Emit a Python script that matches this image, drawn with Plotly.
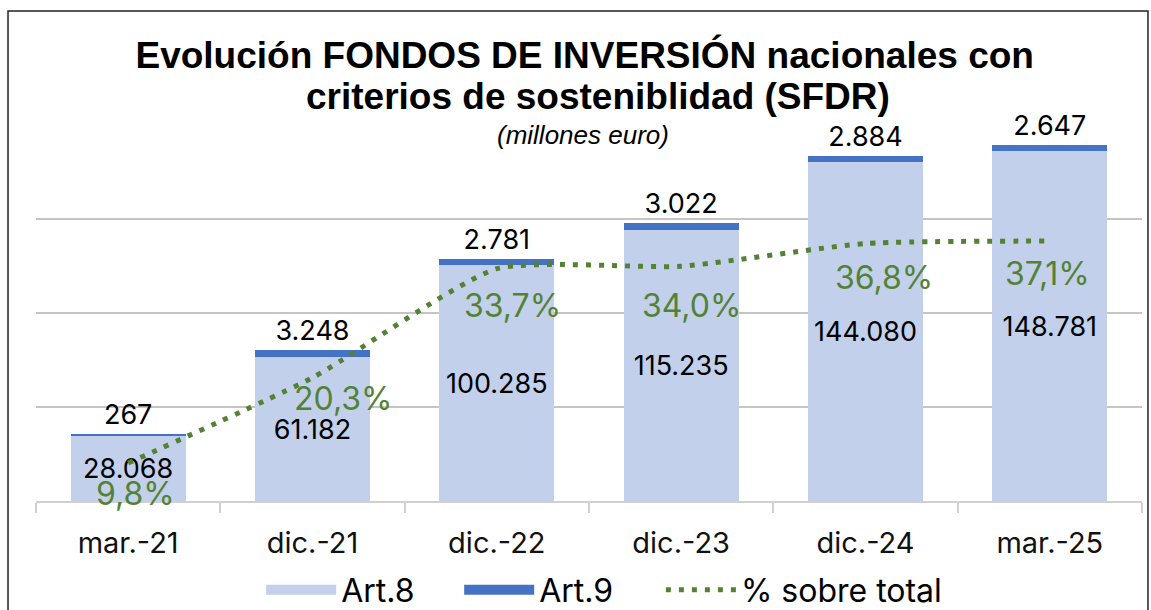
import plotly.graph_objects as go

# ---- data ----
categories = ["mar.-21", "dic.-21", "dic.-22", "dic.-23", "dic.-24", "mar.-25"]
art8 = [28068, 61182, 100285, 115235, 144080, 148781]
art9 = [267, 3248, 2781, 3022, 2884, 2647]
pct_total = [9.8, 20.3, 33.7, 34.0, 36.8, 37.1]
title_lines = ["Evolución FONDOS DE INVERSIÓN nacionales con",
               "criterios de sosteniblidad (SFDR)"]
subtitle = "(millones euro)"

# ---- label styling (pixel offsets of the % labels relative to their points) ----
pct_dx = [7, 30, 16, 10, 18, -2]
pct_dy = [30, 21, 37, 39, 34, 32]

def fmt_thousands(v):
    return f"{v:,}".replace(",", ".")

def fmt_pct(p):
    return f"{p:.1f}%".replace(".", ",")

LABEL_FONT = "Inter"
TITLE_FONT = "Liberation Sans"
GREEN = "#548235"
ART8_COLOR = "#C2D0EC"
ART9_COLOR = "#4472C4"
H = 610
PLOT_TOP, PLOT_BOTTOM = 130, 501  # pixel rows of plot area

fig = go.Figure()

fig.add_trace(go.Bar(
    x=categories, y=art8, name="Art.8", showlegend=False,
    marker=dict(color=ART8_COLOR, line=dict(width=0)),
    text=[fmt_thousands(v) for v in art8],
    textposition="inside", insidetextanchor="middle", textangle=0,
    textfont=dict(family=LABEL_FONT, size=27, color="black"),
    constraintext="none",
))
fig.add_trace(go.Bar(
    x=categories, y=art9, name="Art.9", showlegend=False,
    marker=dict(color=ART9_COLOR, line=dict(width=0)),
    text=[fmt_thousands(v) for v in art9],
    textposition="outside", textangle=0,
    textfont=dict(family=LABEL_FONT, size=27, color="black"),
    constraintext="none", cliponaxis=False,
))
fig.add_trace(go.Scatter(
    x=categories, y=[p / 100 for p in pct_total], name="% sobre total",
    yaxis="y2", mode="lines", showlegend=False,
    line=dict(color=GREEN, width=5, dash="5px,8px", shape="spline", smoothing=0.55),
))

# legend-only entries (wider swatches than plotly's default bar squares)
fig.add_trace(go.Scatter(x=[None], y=[None], mode="lines", name="Art.8",
                         line=dict(color=ART8_COLOR, width=10), legend="legend"))
fig.add_trace(go.Scatter(x=[None], y=[None], mode="lines", name="Art.9",
                         line=dict(color=ART9_COLOR, width=10), legend="legend"))
fig.add_trace(go.Scatter(x=[None], y=[None], mode="lines", name="% sobre total",
                         line=dict(color=GREEN, width=5, dash="5px,8px"), legend="legend2"))

for c, p, dx, dy in zip(categories, pct_total, pct_dx, pct_dy):
    fig.add_annotation(
        x=c, y=p / 100, xref="x", yref="y2", text=fmt_pct(p), showarrow=False,
        xshift=dx, yshift=-dy,
        font=dict(family=LABEL_FONT, size=32, color=GREEN),
    )

# second title line
fig.add_annotation(
    x=0.508, y=(PLOT_BOTTOM - 97) / (PLOT_BOTTOM - PLOT_TOP), xref="paper", yref="paper",
    yanchor="middle", text=f"<b>{title_lines[1]}</b>", showarrow=False,
    font=dict(family=TITLE_FONT, size=37, color="black"),
)
# subtitle
fig.add_annotation(
    x=0.495, y=1.0, xref="paper", yref="paper", yanchor="middle", yshift=-5,
    text=f"<i>{subtitle}</i>", showarrow=False,
    font=dict(family=TITLE_FONT, size=26, color="black"),
)

# chart border
fig.add_shape(type="rect", xref="paper", yref="paper",
              x0=-0.0253, x1=1.0054, y0=-0.5, y1=1.3208,
              line=dict(color="#222222", width=1.5), fillcolor="rgba(0,0,0,0)")

legend_common = dict(
    orientation="h", xanchor="left", y=-0.24, yanchor="middle",
    font=dict(family=LABEL_FONT, size=32, color="black"), itemwidth=70,
    traceorder="normal", tracegroupgap=0, bgcolor="rgba(0,0,0,0)",
)

fig.update_layout(
    width=1151, height=H,
    margin=dict(l=36, r=9, t=PLOT_TOP, b=H - PLOT_BOTTOM, autoexpand=False),
    paper_bgcolor="white", plot_bgcolor="white",
    barmode="stack", bargap=0.375,
    title=dict(
        text=f"<b>{title_lines[0]}</b>",
        x=0.508, xanchor="center", y=1 - 55 / H, yanchor="middle", yref="container",
        font=dict(family=TITLE_FONT, size=37, color="black"),
    ),
    xaxis=dict(
        type="category", tickson="boundaries", ticks="outside", ticklen=10,
        tickcolor="#D0D0D0", tickwidth=2, showline=True, linecolor="#D0D0D0", linewidth=2,
        tickfont=dict(family=LABEL_FONT, size=29, color="#111111"),
        ticklabelstandoff=15, showgrid=False,
    ),
    yaxis=dict(
        range=[0, 157900], dtick=40000, showticklabels=False, showgrid=True,
        gridcolor="#C4C4C4", gridwidth=2, zeroline=False, showline=False,
    ),
    yaxis2=dict(
        overlaying="y", side="right", range=[0.0513, 0.5076], visible=False,
        showgrid=False,
    ),
    legend=dict(x=0.2036, entrywidth=113, entrywidthmode="pixels", **legend_common),
    legend2=dict(x=0.565, **legend_common),
    showlegend=True,
)

fig.write_html("out.html", config={"displayModeBar": False},
               post_script="document.body.style.margin='0px';")
